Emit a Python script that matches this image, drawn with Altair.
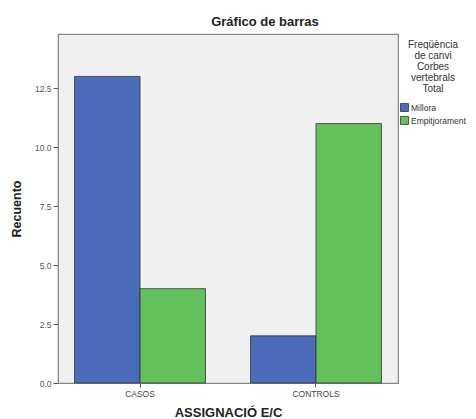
import altair as alt
import pandas as pd

groups = ["CASOS", "CASOS", "CONTROLS", "CONTROLS"]
series = ["Millora", "Empitjorament", "Millora", "Empitjorament"]
counts = [13, 4, 2, 11]

order = ["Millora", "Empitjorament"]
colors = ["#4a6cbb", "#61c15a"]
y_ticks = [0, 2.5, 5, 7.5, 10, 12.5]

df = pd.DataFrame({"grupo": groups, "serie": series, "recuento": counts})

bars = alt.Chart(df).mark_bar(stroke="#333333", strokeWidth=0.8).encode(
    x=alt.X("grupo:N", sort=["CASOS", "CONTROLS"],
            scale=alt.Scale(paddingInner=0.256, paddingOuter=0.094),
            axis=alt.Axis(title="ASSIGNACIÓ E/C", labelAngle=0, labelFontSize=8.5,
                          labelColor="#444444", titleFontSize=13, titleFontWeight="bold",
                          titleColor="#222222", titlePadding=9, tickColor="#555555",
                          tickSize=4, domainColor="#888888", labelFont="Liberation Sans",
                          titleFont="Liberation Sans")),
    xOffset=alt.XOffset("serie:N", sort=order, scale=alt.Scale(paddingInner=0, paddingOuter=0)),
    y=alt.Y("recuento:Q", scale=alt.Scale(domain=[0, 14.8], nice=False),
            axis=alt.Axis(title="Recuento", values=y_ticks, format=".1f", labelFontSize=8.5,
                          labelColor="#555555", titleFontSize=12.5, titleFontWeight="bold",
                          titleColor="#222222", titlePadding=11, tickColor="#555555",
                          tickSize=5, domainColor="#888888", grid=False,
                          labelFont="Liberation Sans", titleFont="Liberation Sans")),
    color=alt.Color("serie:N", sort=order, scale=alt.Scale(domain=order, range=colors),
                    legend=alt.Legend(
                        title=["Freqüència", "de canvi", "Corbes", "vertebrals", "Total"],
                        orient="none", legendX=342, legendY=6,
                        titleAlign="center", titleAnchor="middle", titleFontSize=10,
                        titleFontWeight="normal", titleColor="#333333", titleLineHeight=11,
                        titleFont="Liberation Sans", labelFont="Liberation Sans",
                        labelFontSize=8.5, labelColor="#333333", symbolType="square",
                        symbolSize=64, symbolStrokeColor="#333333", symbolStrokeWidth=0.8,
                        rowPadding=0, labelOffset=2, padding=0, titlePadding=9)),
)

chart = bars.properties(
    width=340, height=349,
    background="white",
    title=alt.TitleParams("Gráfico de barras", fontSize=13, fontWeight="bold",
                          font="Liberation Sans", color="#222222", anchor="middle",
                          dx=37, offset=5),
    autosize=alt.AutoSizeParams(type="none"),
    padding={"left": 58, "top": 34, "right": 78, "bottom": 36},
).configure_view(fill="#f0f0f0", stroke="#888888", strokeWidth=1.2)

chart.save("out.html", embed_options={"renderer": "svg", "actions": False})
